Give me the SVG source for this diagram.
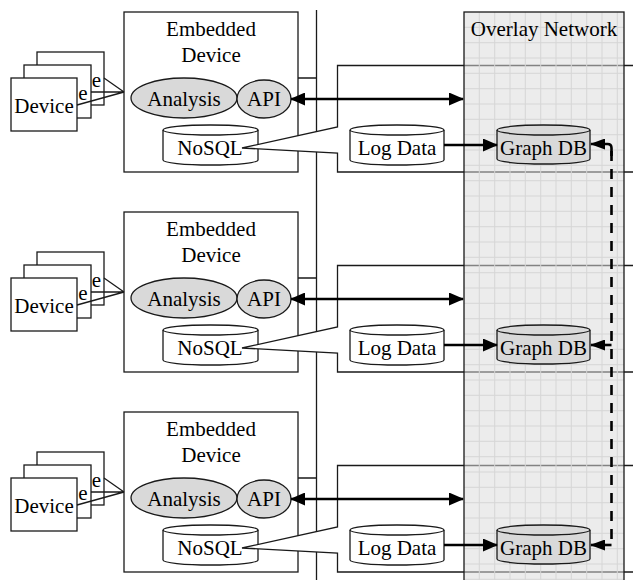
<svg xmlns="http://www.w3.org/2000/svg" width="633" height="580" viewBox="0 0 633 580">
<defs>
<style>
text{font-family:'Liberation Serif','Times New Roman',Times,'DejaVu Serif','Noto Serif',serif;font-size:21px;fill:#000;text-anchor:middle}
.box{fill:#fff;stroke:#1a1a1a;stroke-width:1.3}
.gray{fill:#d9d9d9;stroke:#1a1a1a;stroke-width:1.3}
.ln{fill:none;stroke:#1a1a1a;stroke-width:1.3}
.thick{fill:none;stroke:#000;stroke-width:2.6}
.dash{fill:none;stroke:#000;stroke-width:2.6;stroke-dasharray:10 8}
.grid{stroke:#d6d6d6;stroke-width:1}
</style>
<marker id="ah" markerUnits="userSpaceOnUse" markerWidth="15" markerHeight="13" refX="14" refY="6.5" orient="auto-start-reverse">
<path d="M0,0 L15,6.5 L0,13 z" fill="#000"/>
</marker>
<marker id="ahs" markerUnits="userSpaceOnUse" markerWidth="15" markerHeight="11" refX="14" refY="5.5" orient="auto">
<path d="M0,0 L15,5.5 L0,11 z" fill="#000"/>
</marker>
</defs>
<rect width="633" height="580" fill="#fff"/>

<g id="bus"><line class="ln" x1="316.5" y1="10" x2="316.5" y2="580"/></g>

<g id="section1">
<g id="devices1">
<rect class="box" x="37" y="52" width="67" height="53"/><text x="96.5" y="87">e</text>
<rect class="box" x="24" y="65" width="67" height="53"/><text x="83" y="100">e</text>
<rect class="box" x="11" y="78" width="66" height="53"/><text x="44" y="113">Device</text>
</g>
<g id="embedded1">
<rect class="box" x="124" y="12" width="174" height="160"/>
<text x="211" y="36">Embedded</text><text x="211" y="62">Device</text>
</g>
<g id="analysis1"><ellipse class="gray" cx="184" cy="98" rx="53" ry="20"/><text x="184" y="106">Analysis</text></g>
<g id="api1"><ellipse class="gray" cx="264" cy="99" rx="27" ry="19"/><text x="264" y="106">API</text></g>
<g id="nosql1"><path class="box" d="M163,130 A47.5,5 0 0 1 258,130 V160 A47.5,5 0 0 1 163,160 Z"/><path class="ln" d="M163,130 A47.5,5 0 0 0 258,130"/><text x="210" y="155">NoSQL</text></g>
<g id="callout1"><path class="box" d="M242,148 L337.5,127 V65.5 H640 V172 H337.5 V153 Z"/></g>
<g id="logdata1"><path class="box" d="M350,130 A47,5 0 0 1 444,130 V160 A47,5 0 0 1 350,160 Z"/><path class="ln" d="M350,130 A47,5 0 0 0 444,130"/><text x="397" y="155">Log Data</text></g>
</g>

<g id="section2" transform="translate(0,200)">
<g id="devices2">
<rect class="box" x="37" y="52" width="67" height="53"/><text x="96.5" y="87">e</text>
<rect class="box" x="24" y="65" width="67" height="53"/><text x="83" y="100">e</text>
<rect class="box" x="11" y="78" width="66" height="53"/><text x="44" y="113">Device</text>
</g>
<g id="embedded2">
<rect class="box" x="124" y="12" width="174" height="160"/>
<text x="211" y="36">Embedded</text><text x="211" y="62">Device</text>
</g>
<g id="analysis2"><ellipse class="gray" cx="184" cy="98" rx="53" ry="20"/><text x="184" y="106">Analysis</text></g>
<g id="api2"><ellipse class="gray" cx="264" cy="99" rx="27" ry="19"/><text x="264" y="106">API</text></g>
<g id="nosql2"><path class="box" d="M163,130 A47.5,5 0 0 1 258,130 V160 A47.5,5 0 0 1 163,160 Z"/><path class="ln" d="M163,130 A47.5,5 0 0 0 258,130"/><text x="210" y="155">NoSQL</text></g>
<g id="callout2"><path class="box" d="M242,148 L337.5,127 V65.5 H640 V172 H337.5 V153 Z"/></g>
<g id="logdata2"><path class="box" d="M350,130 A47,5 0 0 1 444,130 V160 A47,5 0 0 1 350,160 Z"/><path class="ln" d="M350,130 A47,5 0 0 0 444,130"/><text x="397" y="155">Log Data</text></g>
</g>

<g id="section3" transform="translate(0,400)">
<g id="devices3">
<rect class="box" x="37" y="52" width="67" height="53"/><text x="96.5" y="87">e</text>
<rect class="box" x="24" y="65" width="67" height="53"/><text x="83" y="100">e</text>
<rect class="box" x="11" y="78" width="66" height="53"/><text x="44" y="113">Device</text>
</g>
<g id="embedded3">
<rect class="box" x="124" y="12" width="174" height="160"/>
<text x="211" y="36">Embedded</text><text x="211" y="62">Device</text>
</g>
<g id="analysis3"><ellipse class="gray" cx="184" cy="98" rx="53" ry="20"/><text x="184" y="106">Analysis</text></g>
<g id="api3"><ellipse class="gray" cx="264" cy="99" rx="27" ry="19"/><text x="264" y="106">API</text></g>
<g id="nosql3"><path class="box" d="M163,130 A47.5,5 0 0 1 258,130 V160 A47.5,5 0 0 1 163,160 Z"/><path class="ln" d="M163,130 A47.5,5 0 0 0 258,130"/><text x="210" y="155">NoSQL</text></g>
<g id="callout3"><path class="box" d="M242,148 L337.5,127 V65.5 H640 V172 H337.5 V153 Z"/></g>
<g id="logdata3"><path class="box" d="M350,130 A47,5 0 0 1 444,130 V160 A47,5 0 0 1 350,160 Z"/><path class="ln" d="M350,130 A47,5 0 0 0 444,130"/><text x="397" y="155">Log Data</text></g>
</g>

<g id="overlay">
<rect x="464" y="12" width="160" height="580" fill="#dbdbdb" fill-opacity="0.54" stroke="none"/>
<g class="grid">
<line x1="479.3" y1="12" x2="479.3" y2="580"/><line x1="494.7" y1="12" x2="494.7" y2="580"/><line x1="510" y1="12" x2="510" y2="580"/><line x1="525.3" y1="12" x2="525.3" y2="580"/><line x1="540.7" y1="12" x2="540.7" y2="580"/><line x1="556" y1="12" x2="556" y2="580"/><line x1="571.3" y1="12" x2="571.3" y2="580"/><line x1="586.7" y1="12" x2="586.7" y2="580"/><line x1="602" y1="12" x2="602" y2="580"/><line x1="617.3" y1="12" x2="617.3" y2="580"/>
<path d="M464,27.3H624M464,42.7H624M464,58H624M464,73.3H624M464,88.7H624M464,104H624M464,119.3H624M464,134.7H624M464,150H624M464,165.3H624M464,180.7H624M464,196H624M464,211.3H624M464,226.7H624M464,242H624M464,257.3H624M464,272.7H624M464,288H624M464,303.3H624M464,318.7H624M464,334H624M464,349.3H624M464,364.7H624M464,380H624M464,395.3H624M464,410.7H624M464,426H624M464,441.3H624M464,456.7H624M464,472H624M464,487.3H624M464,502.7H624M464,518H624M464,533.3H624M464,548.7H624M464,564H624M464,579.3H624"/>
</g>
<rect x="464" y="12" width="160" height="580" fill="none" stroke="#1a1a1a" stroke-width="1.3"/>
<text x="544" y="36">Overlay Network</text>
</g>

<g id="graphdb1"><path class="gray" d="M497,130 A46.5,5 0 0 1 590,130 V159 A46.5,5 0 0 1 497,159 Z"/><path class="ln" d="M497,130 A46.5,5 0 0 0 590,130"/><text x="543.5" y="155">Graph DB</text></g>
<g id="graphdb2"><path class="gray" d="M497,330 A46.5,5 0 0 1 590,330 V359 A46.5,5 0 0 1 497,359 Z"/><path class="ln" d="M497,330 A46.5,5 0 0 0 590,330"/><text x="543.5" y="355">Graph DB</text></g>
<g id="graphdb3"><path class="gray" d="M497,530 A46.5,5 0 0 1 590,530 V559 A46.5,5 0 0 1 497,559 Z"/><path class="ln" d="M497,530 A46.5,5 0 0 0 590,530"/><text x="543.5" y="555">Graph DB</text></g>

<g id="connectors">
<g id="dev-links">
<path class="ln" d="M104,78 L124,92 M91,92 H124 M77,105 L124,92"/>
<path class="ln" d="M104,278 L124,292 M91,292 H124 M77,305 L124,292"/>
<path class="ln" d="M104,478 L124,492 M91,492 H124 M77,505 L124,492"/>
</g>
<g id="bus-links">
<path class="ln" d="M298,78 H316.5 M298,278 H316.5 M298,478 H316.5"/>
</g>
<g id="api-links">
<line class="thick" x1="291" y1="99" x2="463" y2="99" marker-start="url(#ah)" marker-end="url(#ah)"/>
<line class="thick" x1="291" y1="299" x2="463" y2="299" marker-start="url(#ah)" marker-end="url(#ah)"/>
<line class="thick" x1="291" y1="499" x2="463" y2="499" marker-start="url(#ah)" marker-end="url(#ah)"/>
</g>
<g id="log-links">
<line class="thick" x1="444" y1="145" x2="497" y2="145" marker-end="url(#ah)"/>
<line class="thick" x1="444" y1="345" x2="497" y2="345" marker-end="url(#ah)"/>
<line class="thick" x1="444" y1="545" x2="497" y2="545" marker-end="url(#ah)"/>
</g>
<g id="sync-links">
<path class="dash" d="M611.5,151 V545"/>
<path class="thick" d="M611.5,156 V148 Q611.5,144 607.5,144 H591" marker-end="url(#ahs)"/>
<path class="thick" d="M611.5,345 H591" marker-end="url(#ahs)"/>
<path class="thick" d="M611.5,545 H591" marker-end="url(#ahs)"/>
</g>
</g>
</svg>
